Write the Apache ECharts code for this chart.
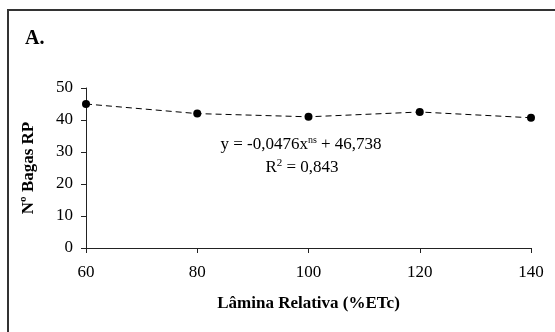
<!DOCTYPE html>
<html lang="pt">
<head>
    <meta charset="UTF-8">
    <title>Nº Bagas RP</title>
    <script src="https://cdn.jsdelivr.net/npm/echarts@6/dist/echarts.min.js"></script>
    <style>
        * { margin: 0; padding: 0; box-sizing: border-box; }
        body { background: #fff; }
        #chart { width: 555px; height: 332px; }
    </style>
</head>
<body>
    <div id="chart"></div>
    <script>
        // dados
        const laminas = [60, 80, 100, 120, 140];
        const bagas = [45, 42, 41, 42.5, 40.7];
        const yTicks = [0, 10, 20, 30, 40, 50];

        const serif = '"Liberation Serif", "Times New Roman", serif';

        const chart = echarts.init(document.getElementById('chart'));
        const option = {
            animation: false,
            backgroundColor: '#fff',
            grid: { left: 86, right: 24, top: 88, bottom: 84 },
            xAxis: {
                type: 'value',
                min: 60,
                max: 140,
                interval: 20,
                name: 'Lâmina Relativa (%ETc)',
                nameLocation: 'middle',
                nameGap: 47,
                nameTextStyle: { fontFamily: serif, fontWeight: 'bold', fontSize: 17, color: '#000' },
                axisLine: { lineStyle: { color: '#222', width: 1 } },
                axisTick: { inside: false, length: 5, lineStyle: { color: '#222' } },
                axisLabel: { fontFamily: serif, fontSize: 17, color: '#000', margin: 16 },
                splitLine: { show: false }
            },
            yAxis: {
                type: 'value',
                min: yTicks[0],
                max: yTicks[yTicks.length - 1],
                interval: 10,
                name: 'Nº Bagas RP',
                nameLocation: 'middle',
                nameGap: 49,
                nameRotate: 90,
                nameTextStyle: { fontFamily: serif, fontWeight: 'bold', fontSize: 17, color: '#000' },
                axisLine: { show: true, lineStyle: { color: '#222', width: 1 } },
                axisTick: { show: true, length: 5, lineStyle: { color: '#222' } },
                axisLabel: { fontFamily: serif, fontSize: 17, color: '#000', margin: 13 },
                splitLine: { show: false }
            },
            series: [{
                type: 'line',
                data: laminas.map((x, i) => [x, bagas[i]]),
                symbol: 'circle',
                symbolSize: 8,
                itemStyle: { color: '#000' },
                lineStyle: { color: '#000', width: 1, type: [6, 4] }
            }],
            graphic: [
                {
                    type: 'rect',
                    shape: { x: 8, y: 10, width: 560, height: 340 },
                    style: { fill: 'none', stroke: '#333', lineWidth: 2 },
                    silent: true
                },
                {
                    type: 'text',
                    left: 25, top: 29,
                    style: { text: 'A.', font: 'bold 20px ' + serif, fill: '#000' }
                },
                {
                    type: 'text',
                    x: 301, y: 145,
                    style: {
                        text: '{a|y = -0,0476x}{s|ns}{a| + 46,738}',
                        align: 'center',
                        verticalAlign: 'middle',
                        rich: {
                            a: { fontFamily: serif, fontSize: 17, fill: '#000', lineHeight: 20 },
                            s: { fontFamily: serif, fontSize: 10, fill: '#000', verticalAlign: 'top', lineHeight: 20 }
                        }
                    }
                },
                {
                    type: 'text',
                    x: 302, y: 168,
                    style: {
                        text: '{a|R}{s|2}{a| = 0,843}',
                        align: 'center',
                        verticalAlign: 'middle',
                        rich: {
                            a: { fontFamily: serif, fontSize: 17, fill: '#000', lineHeight: 20 },
                            s: { fontFamily: serif, fontSize: 11, fill: '#000', verticalAlign: 'top', lineHeight: 20 }
                        }
                    }
                }
            ]
        };
        chart.setOption(option);
    </script>
</body>
</html>
